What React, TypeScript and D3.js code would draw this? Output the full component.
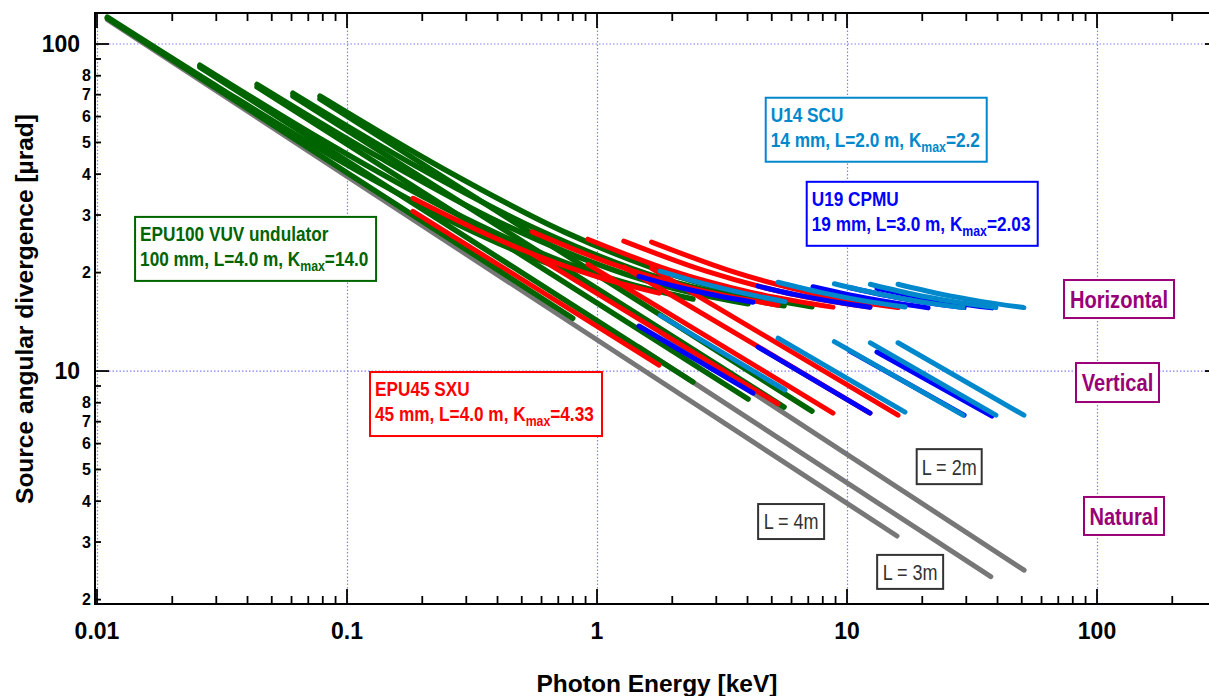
import React, { useEffect, useRef } from "react";
import * as d3 from "d3";

// ---- data: [photon energy keV, divergence urad] ----

// natural (single electron) divergence, L = 4 m / 3 m / 2 m
const naturalL4 = [[0.011, 118.7], [15.85, 3.13]];
const naturalL3 = [[1.47, 11.86], [37.6, 2.35]];
const naturalL2 = [[1.79, 13.15], [51.1, 2.46]];

// EPU100 VUV undulator, harmonics 1,3,5,7,9
const epu100Vertical = [
  [[0.011, 120], [0.8, 14.5]],
  [[0.0258, 85], [2.42, 9.26]],
  [[0.0437, 73.9], [4.02, 8.21]],
  [[0.0608, 69.3], [5.6, 7.76]],
  [[0.078, 67.9], [7.24, 7.54]],
];
const epu100Horizontal = [
  [[0.011, 120.8], [0.0321, 72.1], [0.0938, 43.9], [0.274, 28.2], [0.468, 23.4], [0.8, 20.0]],
  [[0.0258, 86.1], [0.0803, 50.7], [0.25, 31.3], [0.778, 21.2], [1.372, 18.4], [2.42, 16.6]],
  [[0.0437, 75.2], [0.1353, 44.9], [0.419, 28.2], [1.298, 19.8], [2.285, 17.5], [4.02, 16.06]],
  [[0.0608, 70.7], [0.188, 42.4], [0.584, 27.0], [1.81, 19.2], [3.18, 17.2], [5.6, 15.83]],
  [[0.078, 69.3], [0.242, 41.6], [0.751, 26.5], [2.33, 19.0], [4.11, 17.0], [7.24, 15.73]],
];

// EPU45 SXU
const epu45Vertical = [
  [[0.1836, 30.8], [1.77, 10.43]],
  [[0.55, 22.8], [5.3, 7.93]],
  [[0.92, 21.2], [8.79, 7.44]],
  [[1.28, 20.8], [12.36, 7.44]],
  [[1.652, 20.6], [16.0, 7.33]],
];
const epu45Horizontal = [
  [[0.1836, 33.75], [0.3235, 27.25], [0.57, 22.6], [1.005, 19.4], [1.77, 17.3]],
  [[0.55, 26.65], [1.169, 21.15], [2.49, 17.8], [5.3, 15.9]],
  [[0.92, 25.3], [1.952, 20.35], [4.14, 17.4], [8.79, 15.68]],
  [[1.28, 24.96], [2.73, 20.2], [5.81, 17.3], [12.36, 15.68]],
  [[1.652, 24.8], [3.52, 20.1], [7.52, 17.2], [16.0, 15.63]],
];

// U19 CPMU
const u19Vertical = [
  [[1.472, 13.73], [4.207, 8.56]],
  [[4.41, 11.84], [12.36, 7.44]],
  [[10.28, 11.51], [29.4, 7.33]],
  [[13.18, 11.43], [38.0, 7.28]],
];
const u19Horizontal = [
  [[1.472, 19.47], [2.087, 18.1], [2.97, 17.05], [4.207, 16.24]],
  [[4.41, 18.18], [6.22, 17.12], [8.79, 16.3], [12.36, 15.68]],
  [[7.31, 18.1], [10.26, 17.1], [14.5, 16.3], [21.1, 15.6]],
  [[10.28, 17.97], [14.6, 16.98], [20.7, 16.2], [29.4, 15.63]],
  [[13.18, 17.92], [18.75, 16.95], [26.7, 16.18], [38.0, 15.6]],
];

// U14 SCU
const u14Vertical = [
  [[1.79, 14.8], [5.65, 8.75]],
  [[5.3, 12.6], [17.06, 7.49]],
  [[8.9, 12.3], [29.1, 7.33]],
  [[12.4, 12.2], [39.4, 7.33]],
  [[16.0, 12.2], [51.0, 7.33]],
];
const u14Horizontal = [
  [[1.79, 20.2], [2.386, 18.94], [3.18, 17.9], [4.24, 17.03], [5.65, 16.3]],
  [[5.3, 18.69], [7.82, 17.4], [11.56, 16.42], [17.06, 15.7]],
  [[8.9, 18.49], [13.2, 17.25], [19.6, 16.3], [29.1, 15.63]],
  [[12.4, 18.42], [18.2, 17.2], [26.8, 16.3], [39.4, 15.63]],
  [[16.0, 18.42], [23.6, 17.2], [34.7, 16.3], [51.0, 15.63]],
];

const xDecades = [0.01, 0.1, 1, 10, 100];
const xTickLabels = ["0.01", "0.1", "1", "10", "100"];
const yDecades = [10, 100];
const yTickLabels = ["10", "100"];
const yMinorLabels = ["2", "3", "4", "5", "6", "7", "8"];

const GREEN = "#006400";
const RED = "#ff0000";
const BLUE = "#0000ff";
const CYAN = "#0088cc";
const GRAY = "#777777";
const PURPLE = "#990077";

const sans = "'Liberation Sans', Arial, sans-serif";
// no narrow face installed: Liberation Sans squeezed to Arial Narrow proportions
const NARROW = 0.82;

// undulator info boxes, anchored at their top-left corner (energy, divergence)
const infoBoxes = [
  { title: "EPU100 VUV undulator", spec: "100 mm, L=4.0 m, K", kmax: "=14.0", color: GREEN, at: [0.0142, 29.6], w: 241 },
  { title: "EPU45 SXU", spec: "45 mm, L=4.0 m, K", kmax: "=4.33", color: RED, at: [0.1236, 9.93], w: 232 },
  { title: "U14 SCU", spec: "14 mm, L=2.0 m, K", kmax: "=2.2", color: CYAN, at: [4.73, 68.5], w: 221 },
  { title: "U19 CPMU", spec: "19 mm, L=3.0 m, K", kmax: "=2.03", color: BLUE, at: [6.9, 37.9], w: 231 },
];

const tagBoxes = [
  { text: "Horizontal", color: PURPLE, at: [73.8, 18.98], w: 110, h: 38, size: 24.5, weight: "bold" },
  { text: "Vertical", color: PURPLE, at: [82.4, 10.58], w: 83, h: 39, size: 24.5, weight: "bold" },
  { text: "Natural", color: PURPLE, at: [88.7, 4.12], w: 80, h: 38, size: 24.5, weight: "bold" },
  { text: "L = 2m", color: "#333333", at: [19.0, 5.77], w: 65, h: 35, size: 22, weight: "normal" },
  { text: "L = 4m", color: "#333333", at: [4.41, 3.92], w: 66, h: 35, size: 22, weight: "normal" },
  { text: "L = 3m", color: "#333333", at: [13.2, 2.74], w: 66, h: 34, size: 22, weight: "normal" },
];

const App = () => {
  const svgRef = useRef(null);

  useEffect(() => {
    const svg = d3.select(svgRef.current);
    svg.selectAll("*").remove();

    const left = 95, right = 1219, top = 13, bottom = 604;
    const x = d3.scaleLog().domain([0.009817, 307.6]).range([left, right]);
    const y = d3.scaleLog().domain([1.9392, 124.4]).range([bottom, top]);

    svg.append("rect").attr("width", 1209).attr("height", 696).attr("fill", "#fff");

    svg.append("defs").append("clipPath").attr("id", "plot-clip")
      .append("rect").attr("x", left).attr("y", top)
      .attr("width", right - left).attr("height", bottom - top);

    // dotted grid at decades
    const grid = svg.append("g").attr("stroke", "#8080ff").attr("stroke-width", 1.2)
      .attr("stroke-dasharray", "1.5,2");
    xDecades.forEach((d) => {
      grid.append("line").attr("x1", x(d) + 0.5).attr("x2", x(d) + 0.5).attr("y1", top).attr("y2", bottom);
    });
    yDecades.forEach((d) => {
      grid.append("line").attr("x1", left).attr("x2", right).attr("y1", y(d)).attr("y2", y(d));
    });

    // curves
    const line = d3.line()
      .x((d) => x(d[0]))
      .y((d) => y(d[1]))
      .curve(d3.curveMonotoneX);

    const curves = svg.append("g").attr("clip-path", "url(#plot-clip)")
      .attr("fill", "none").attr("stroke-linecap", "round").attr("stroke-linejoin", "round");

    const drawSet = (sets, color, w) => {
      curves.append("g").attr("stroke", color).attr("stroke-width", w)
        .selectAll("path").data(sets).join("path").attr("d", (d) => line(d));
    };

    drawSet([naturalL4, naturalL3, naturalL2], GRAY, 5);
    drawSet(epu100Vertical, GREEN, 5.5);
    drawSet(epu100Horizontal, GREEN, 5.5);
    drawSet(epu45Vertical, RED, 5);
    drawSet(epu45Horizontal, RED, 5);
    drawSet(u19Vertical, BLUE, 5);
    drawSet(u19Horizontal, BLUE, 5);
    drawSet(u14Vertical, CYAN, 5);
    drawSet(u14Horizontal, CYAN, 5);

    // frame
    const axes = svg.append("g").attr("stroke", "#000").attr("fill", "none");
    axes.append("rect").attr("x", left).attr("y", top).attr("width", right - left)
      .attr("height", bottom - top).attr("stroke-width", 2);

    // x ticks (inside, bottom and top)
    const xMinor = [];
    xDecades.concat([1000]).forEach((d) => {
      for (let k = 2; k <= 9; k++) if (k * d < 307) xMinor.push(k * d);
    });
    const tickG = axes.append("g").attr("stroke-width", 1.8);
    xDecades.forEach((d) => {
      tickG.append("line").attr("x1", x(d)).attr("x2", x(d)).attr("y1", bottom).attr("y2", bottom - 15);
      tickG.append("line").attr("x1", x(d)).attr("x2", x(d)).attr("y1", top).attr("y2", top + 15);
    });
    xMinor.forEach((d) => {
      tickG.append("line").attr("x1", x(d)).attr("x2", x(d)).attr("y1", bottom).attr("y2", bottom - 8);
      tickG.append("line").attr("x1", x(d)).attr("x2", x(d)).attr("y1", top).attr("y2", top + 8);
    });

    // y ticks (inside, left and right)
    const yMinor = [];
    [1, 10, 100].forEach((d) => {
      for (let k = 2; k <= 9; k++) if (k * d > 1.94 && k * d < 124) yMinor.push(k * d);
    });
    yDecades.forEach((d) => {
      tickG.append("line").attr("x1", left).attr("x2", left + 14).attr("y1", y(d)).attr("y2", y(d));
      tickG.append("line").attr("x1", right).attr("x2", right - 14).attr("y1", y(d)).attr("y2", y(d));
    });
    yMinor.forEach((d) => {
      tickG.append("line").attr("x1", left).attr("x2", left + 6).attr("y1", y(d)).attr("y2", y(d));
      tickG.append("line").attr("x1", right).attr("x2", right - 6).attr("y1", y(d)).attr("y2", y(d));
    });

    // tick labels
    const labels = svg.append("g").attr("font-family", sans).attr("font-weight", "bold").attr("fill", "#000");
    xDecades.forEach((d, i) => {
      labels.append("text").attr("x", x(d)).attr("y", 639).attr("text-anchor", "middle")
        .attr("font-size", 23).text(xTickLabels[i]);
    });
    yDecades.forEach((d, i) => {
      labels.append("text").attr("x", 80).attr("y", y(d)).attr("dy", "0.36em")
        .attr("text-anchor", "end").attr("font-size", 23).text(yTickLabels[i]);
    });
    yMinor.forEach((d) => {
      const lead = String(d)[0];
      if (!yMinorLabels.includes(lead)) return;
      labels.append("text").attr("x", 91).attr("y", y(d)).attr("dy", "0.36em")
        .attr("text-anchor", "end").attr("font-size", 16).text(lead);
    });

    // axis titles
    labels.append("text").attr("x", 657).attr("y", 692).attr("text-anchor", "middle")
      .attr("font-size", 24.5).text("Photon Energy [keV]");
    labels.append("text").attr("transform", "translate(33,309) rotate(-90)")
      .attr("text-anchor", "middle").attr("font-size", 24.5).text("Source angular divergence [\u00b5rad]");

    // undulator info boxes
    infoBoxes.forEach((b) => {
      const bx = x(b.at[0]);
      const by = y(b.at[1]);
      const g = svg.append("g").attr("font-family", sans).attr("font-weight", "bold").attr("fill", b.color);
      g.append("rect").attr("x", bx).attr("y", by).attr("width", b.w).attr("height", 64)
        .attr("fill", "#fff").attr("stroke", b.color).attr("stroke-width", 2);
      g.append("text").attr("transform", `translate(${bx + 5},${by + 24}) scale(${NARROW},1)`)
        .attr("font-size", 21).text(b.title);
      const t = g.append("text").attr("transform", `translate(${bx + 5},${by + 49}) scale(${NARROW},1)`)
        .attr("font-size", 21);
      t.append("tspan").text(b.spec);
      t.append("tspan").attr("dy", 5).attr("font-size", 15).text("max");
      t.append("tspan").attr("dy", -5).text(b.kmax);
    });

    // tag boxes
    tagBoxes.forEach((b) => {
      const bx = x(b.at[0]);
      const by = y(b.at[1]);
      const g = svg.append("g").attr("font-family", sans).attr("font-weight", b.weight).attr("fill", b.color);
      g.append("rect").attr("x", bx).attr("y", by).attr("width", b.w).attr("height", b.h)
        .attr("fill", "#fff").attr("stroke", b.color).attr("stroke-width", 2);
      g.append("text").attr("transform", `translate(${bx + b.w / 2},${by + b.h / 2}) scale(${NARROW},1)`)
        .attr("dy", "0.36em").attr("text-anchor", "middle").attr("font-size", b.size).text(b.text);
    });
  }, []);

  return (
    <svg
      ref={svgRef}
      width={1209}
      height={696}
      style={{ position: "absolute", left: 0, top: 0, display: "block" }}
    />
  );
};

export default App;
